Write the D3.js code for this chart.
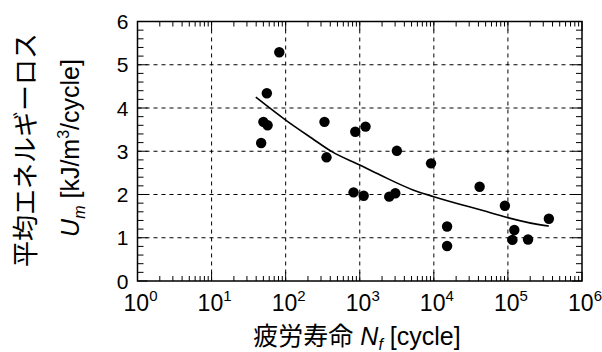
<!DOCTYPE html>
<html lang="ja">
<head>
    <meta charset="UTF-8">
    <title>Um vs Nf</title>
    <script src="https://cdnjs.cloudflare.com/ajax/libs/d3/7.8.5/d3.min.js"></script>
    <style>
        body { margin: 0; background: #fff; }
        text { font-family: "Liberation Sans", Arial, "Noto Sans CJK JP", sans-serif; fill: #000; }
    </style>
</head>
<body>
    <script>
        // measured points: fatigue life Nf [cycle], mean energy loss Um [kJ/m3/cycle]
        var lifeN = [82, 55.7, 50, 57, 46.7, 334, 356, 870, 1197, 3170, 9170, 825, 1130, 2500, 3020,
                     41500, 91000, 357000, 15100, 15100, 122000, 115000, 187000];
        var lossU = [5.29, 4.34, 3.68, 3.60, 3.19, 3.68, 2.86, 3.45, 3.57, 3.01, 2.72, 2.05, 1.97, 1.95, 2.03,
                     2.18, 1.74, 1.44, 1.26, 0.81, 1.18, 0.95, 0.96];
        // fitted curve
        var fitN = [39.5, 100, 226, 421, 1000, 1890, 5340, 10000, 58000, 102000, 321000, 357000];
        var fitU = [4.25, 3.72, 3.30, 2.99, 2.68, 2.45, 2.10, 1.95, 1.58, 1.46, 1.28, 1.27];
        var xDecades = [0, 1, 2, 3, 4, 5, 6];
        var yTicks = [0, 1, 2, 3, 4, 5, 6];

        var svg = d3.select("body").append("svg")
            .attr("width", 602)
            .attr("height", 352);

        var pl = 137.5, pr = 582, pt = 21.5, pb = 281;
        var x = d3.scaleLog().domain([1, 1e6]).range([pl, pr]);
        var y = d3.scaleLinear().domain([0, 6]).range([pb, pt]);

        // grid
        var grid = svg.append("g")
            .attr("stroke", "#000")
            .attr("stroke-width", 1)
            .attr("stroke-dasharray", "4,4");
        grid.selectAll(".gx").data(xDecades.slice(1, -1)).enter().append("line")
            .attr("x1", d => x(Math.pow(10, d))).attr("x2", d => x(Math.pow(10, d)))
            .attr("y1", pt).attr("y2", pb);
        grid.selectAll(".gy").data(yTicks.slice(1, -1)).enter().append("line")
            .attr("x1", pl).attr("x2", pr)
            .attr("y1", d => y(d)).attr("y2", d => y(d));

        // ticks
        var minorX = [];
        xDecades.slice(0, -1).forEach(function(e) {
            for (var k = 2; k <= 9; k++) minorX.push(k * Math.pow(10, e));
        });
        var ticks = svg.append("g").attr("stroke", "#000").attr("stroke-width", 1);
        [pb, pt].forEach(function(base) {
            var dir = base === pb ? -1 : 1;
            ticks.selectAll(null).data(minorX).enter().append("line")
                .attr("x1", d => x(d)).attr("x2", d => x(d))
                .attr("y1", base).attr("y2", base + dir * 5);
            ticks.selectAll(null).data(xDecades).enter().append("line")
                .attr("x1", d => x(Math.pow(10, d))).attr("x2", d => x(Math.pow(10, d)))
                .attr("y1", base).attr("y2", base + dir * 9);
        });
        var minorY = d3.range(0, 30).map(d => d * 0.2).filter(d => Math.abs(d - Math.round(d)) > 0.01);
        [pl, pr].forEach(function(base) {
            var dir = base === pl ? 1 : -1;
            ticks.selectAll(null).data(minorY).enter().append("line")
                .attr("x1", base).attr("x2", base + dir * 6)
                .attr("y1", d => y(d)).attr("y2", d => y(d));
            ticks.selectAll(null).data(yTicks).enter().append("line")
                .attr("x1", base).attr("x2", base + dir * 10)
                .attr("y1", d => y(d)).attr("y2", d => y(d));
        });

        // frame
        svg.append("rect")
            .attr("x", pl).attr("y", pt)
            .attr("width", pr - pl).attr("height", pb - pt)
            .attr("fill", "none").attr("stroke", "#000").attr("stroke-width", 1.5);

        // fitted curve
        var fit = fitN.map((n, i) => [n, fitU[i]]);
        svg.append("path")
            .datum(fit)
            .attr("fill", "none")
            .attr("stroke", "#000")
            .attr("stroke-width", 1.6)
            .attr("d", d3.line().x(d => x(d[0])).y(d => y(d[1])).curve(d3.curveMonotoneX));

        // points
        svg.selectAll("circle")
            .data(lifeN.map((n, i) => [n, lossU[i]]))
            .enter()
            .append("circle")
            .attr("cx", d => x(d[0]))
            .attr("cy", d => y(d[1]))
            .attr("r", 5.2)
            .attr("fill", "#000");

        // y tick labels
        svg.selectAll(".yl").data(yTicks).enter().append("text")
            .attr("x", pl - 9)
            .attr("y", d => y(d) + 7.5)
            .attr("text-anchor", "end")
            .attr("font-size", 21)
            .text(d => d);

        // x tick labels 10^n
        var xl = svg.selectAll(".xl").data(xDecades).enter().append("text")
            .attr("x", d => x(Math.pow(10, d)) + 3)
            .attr("y", 311)
            .attr("text-anchor", "middle")
            .attr("font-size", 23);
        xl.append("tspan").text("10");
        xl.append("tspan").attr("dy", -10).attr("font-size", 15).text(d => d);

        // x title
        var xt = svg.append("text")
            .attr("x", 357).attr("y", 345)
            .attr("text-anchor", "middle")
            .attr("font-size", 25);
        xt.append("tspan").text("疲労寿命 ");
        xt.append("tspan").attr("font-style", "italic").text("N");
        xt.append("tspan").attr("font-style", "italic").attr("font-size", 16).attr("dy", 5).text("f");
        xt.append("tspan").attr("dy", -5).text(" [cycle]");

        // y title
        svg.append("text")
            .attr("transform", "translate(35,150) rotate(-90)")
            .attr("text-anchor", "middle")
            .attr("font-size", 26)
            .text("平均エネルギーロス");
        var yt = svg.append("text")
            .attr("transform", "translate(79,148) rotate(-90)")
            .attr("text-anchor", "middle")
            .attr("font-size", 25);
        yt.append("tspan").attr("font-style", "italic").text("U");
        yt.append("tspan").attr("font-style", "italic").attr("font-size", 16).attr("dy", 6).text("m");
        yt.append("tspan").attr("dy", -6).text(" [kJ/m");
        yt.append("tspan").attr("font-size", 16).attr("dy", -10).text("3");
        yt.append("tspan").attr("dy", 10).text("/cycle]");
    </script>
</body>
</html>
